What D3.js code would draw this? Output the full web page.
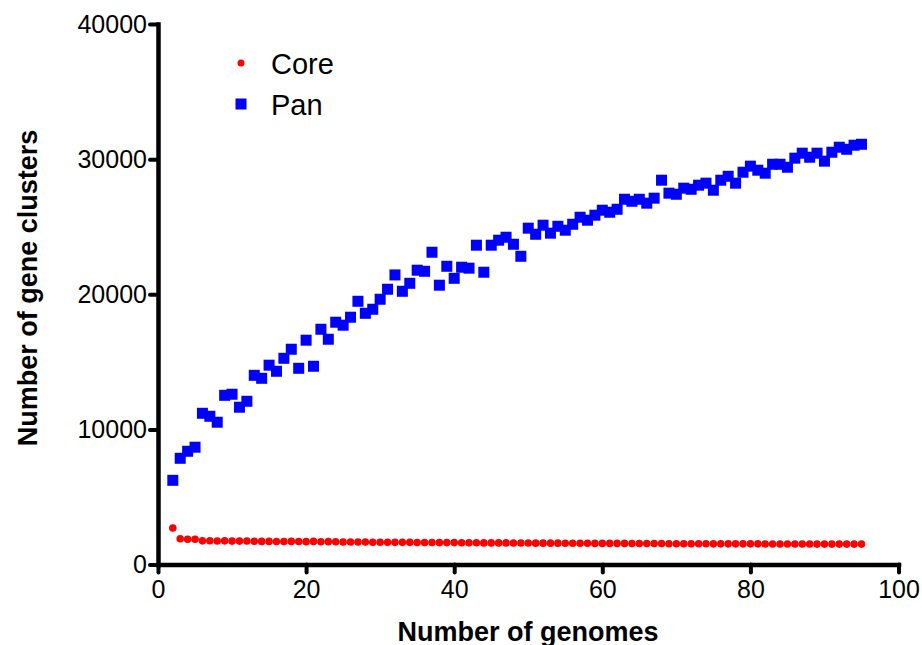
<!DOCTYPE html>
<html>
<head>
<meta charset="utf-8">
<script src="https://cdn.jsdelivr.net/npm/d3@7"></script>
<style>
  html, body { margin: 0; padding: 0; background: #fff; }
  svg { display: block; font-family: "Liberation Sans", Arial, sans-serif; }
</style>
</head>
<body>
<svg id="chart" width="922" height="645"></svg>
<script>
// Number of genomes (x) for both series
const genomes = d3.range(2, 96);

// Pan-genome size for n = 2..95
const panValues = [
  6230, 7860, 8380, 8680, 11190, 10970, 10530, 12520, 12600, 11640,
  12080, 14000, 13780, 14750, 14300, 15260, 15930, 14520, 16600, 14670,
  17410, 16670, 17930, 17710, 18300, 19480, 18590, 18890, 19630, 20370,
  21430, 20220, 20810, 21780, 21700, 23110, 20670, 22070, 21180, 22000,
  21930, 23630, 21630, 23630, 24000, 24220, 23700, 22810, 24890, 24440,
  25110, 24520, 25030, 24740, 25180, 25700, 25480, 25850, 26220, 26070,
  26290, 27030, 26880, 27030, 26740, 27110, 28440, 27480, 27400, 27850,
  27770, 28070, 28220, 27700, 28440, 28730, 28220, 29030, 29480, 29180,
  28960, 29620, 29620, 29400, 30070, 30440, 30140, 30440, 29850, 30510,
  30880, 30730, 31030, 31100
];

// Core-genome size for n = 2..95
const coreValues = [
  2700, 1910, 1870, 1870, 1750, 1760, 1740, 1750, 1730, 1730,
  1740, 1720, 1710, 1710, 1700, 1700, 1710, 1700, 1690, 1710,
  1680, 1690, 1680, 1670, 1670, 1660, 1660, 1650, 1650, 1650,
  1640, 1640, 1640, 1630, 1630, 1630, 1620, 1620, 1620, 1610,
  1610, 1610, 1600, 1600, 1600, 1600, 1590, 1590, 1590, 1580,
  1580, 1580, 1580, 1570, 1570, 1570, 1570, 1560, 1560, 1560,
  1560, 1560, 1550, 1550, 1550, 1550, 1550, 1540, 1540, 1540,
  1540, 1540, 1540, 1530, 1530, 1530, 1530, 1530, 1530, 1530,
  1520, 1520, 1520, 1520, 1520, 1520, 1520, 1510, 1510, 1510,
  1510, 1510, 1510, 1510
];

const xTicks = [0, 20, 40, 60, 80, 100];
const yTicks = [0, 10000, 20000, 30000, 40000];
const seriesNames = ["Core", "Pan"];
const seriesColors = ["#ff0000", "#0000ff"];
const xTitle = "Number of genomes";
const yTitle = "Number of gene clusters";

const svg = d3.select("#chart");

const x = d3.scaleLinear().domain([0, 100]).range([158, 898.5]);
const y = d3.scaleLinear().domain([0, 40000]).range([564.5, 24]);

// Axes
const xAxis = svg.append("g")
  .attr("transform", `translate(0,${y(0)})`)
  .call(d3.axisBottom(x).tickValues(xTicks).tickSize(8).tickSizeOuter(0).tickPadding(8));
const yAxis = svg.append("g")
  .attr("transform", `translate(${x(0)},0)`)
  .call(d3.axisLeft(y).tickValues(yTicks).tickSize(8).tickSizeOuter(0).tickPadding(3).tickFormat(d3.format("d")));

[xAxis, yAxis].forEach(g => {
  g.select(".domain").attr("stroke", "#000").attr("stroke-width", 4.5).attr("stroke-linecap", "square");
  g.selectAll(".tick line").attr("stroke", "#000").attr("stroke-width", 4).attr("stroke-linecap", "round");
  g.selectAll(".tick text").attr("fill", "#000").attr("font-size", 25)
    .attr("font-family", "'Liberation Sans', Arial, sans-serif");
});
xAxis.selectAll(".tick text").attr("dy", "0.71em");

// Axis titles
svg.append("text")
  .attr("x", 528).attr("y", 641)
  .attr("text-anchor", "middle")
  .attr("font-size", 27).attr("font-weight", "bold")
  .text(xTitle);

svg.append("text")
  .attr("transform", "translate(37,288) rotate(-90)")
  .attr("text-anchor", "middle")
  .attr("font-size", 27).attr("font-weight", "bold")
  .text(yTitle);

// Data marks
const core = genomes.map((g, i) => ({ g, v: coreValues[i] }));
const pan = genomes.map((g, i) => ({ g, v: panValues[i] }));

svg.append("g").selectAll("circle").data(core).join("circle")
  .attr("cx", d => x(d.g)).attr("cy", d => y(d.v)).attr("r", 3.8)
  .attr("fill", seriesColors[0]);

const sq = 11;
svg.append("g").selectAll("rect").data(pan).join("rect")
  .attr("x", d => x(d.g) - sq / 2).attr("y", d => y(d.v) - sq / 2)
  .attr("width", sq).attr("height", sq)
  .attr("fill", seriesColors[1]);

// Legend
const legend = svg.append("g");
legend.append("circle").attr("cx", 241).attr("cy", 63).attr("r", 3.5).attr("fill", seriesColors[0]);
legend.append("rect").attr("x", 241 - 5.5).attr("y", 104 - 5.5).attr("width", 11).attr("height", 11).attr("fill", seriesColors[1]);
legend.append("text").attr("x", 271).attr("y", 74).attr("font-size", 29).text(seriesNames[0]);
legend.append("text").attr("x", 271).attr("y", 115).attr("font-size", 29).text(seriesNames[1]);
</script>
</body>
</html>
